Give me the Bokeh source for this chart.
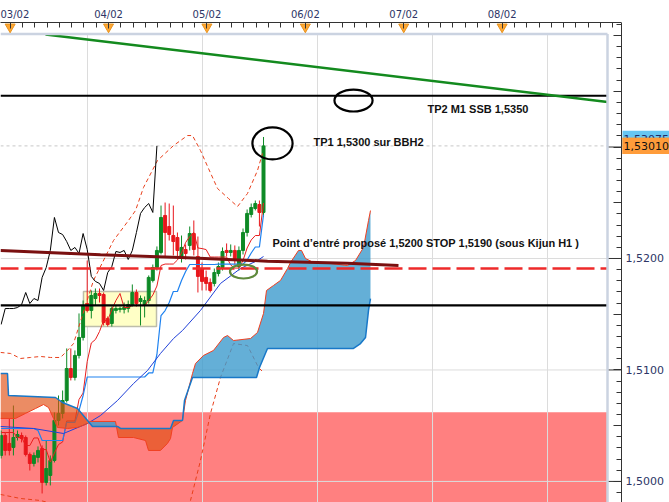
import numpy as np
from bokeh.plotting import figure
from bokeh.models import FixedTicker, Range1d
from bokeh.core.properties import value
from bokeh.embed import file_html
from bokeh.resources import INLINE

# ---------------- hourly candles (index 0 .. 64) ----------------
open_ = [1.50233, 1.50412, 1.50341, 1.50305, 1.50394, 1.50412, 1.50394, 1.50242, 1.50161, 1.50215,
         1.50296, 1.49991, 1.50054, 1.50188, 1.50547, 1.50610, 1.50726, 1.51013, 1.50933, 1.51130,
         1.51291, 1.51596, 1.51534, 1.51641, 1.51686, 1.51677, 1.51462, 1.51417, 1.51534, 1.51543,
         1.51543, 1.51551, 1.51587, 1.51695, 1.51614, 1.51587, 1.51623, 1.51803, 1.51919, 1.52054,
         1.52386, 1.52287, 1.52206, 1.52188, 1.52009, 1.52081, 1.52117, 1.52224, 1.52018, 1.51910,
         1.51830, 1.51785, 1.51776, 1.51865, 1.51919, 1.52072, 1.52054, 1.52072, 1.51928, 1.52072,
         1.52233, 1.52395, 1.52449, 1.52484, 1.52413]
high = [1.50457, 1.50439, 1.50565, 1.50681, 1.50457, 1.50439, 1.50412, 1.50260, 1.50260, 1.50314,
        1.50323, 1.50367, 1.50233, 1.50619, 1.50771, 1.50816, 1.51193, 1.51193, 1.51175, 1.51507,
        1.51623, 1.51982, 1.51713, 1.51731, 1.51731, 1.51695, 1.51480, 1.51569, 1.51578, 1.51569,
        1.51605, 1.51623, 1.51767, 1.51722, 1.51668, 1.51659, 1.51848, 1.51946, 1.52108, 1.52475,
        1.52502, 1.52493, 1.52475, 1.52233, 1.52206, 1.52126, 1.52287, 1.52341, 1.52197, 1.51964,
        1.51892, 1.51821, 1.51910, 1.51964, 1.52099, 1.52135, 1.52126, 1.52117, 1.52108, 1.52269,
        1.52440, 1.52493, 1.52520, 1.52520, 1.53090]
low = [1.50206, 1.50233, 1.50233, 1.50233, 1.50367, 1.50350, 1.50224, 1.50098, 1.50134, 1.50170,
       1.49892, 1.49964, 1.49964, 1.50170, 1.50502, 1.50565, 1.50708, 1.50906, 1.50906, 1.51103,
       1.51264, 1.51516, 1.51462, 1.51578, 1.51605, 1.51399, 1.51390, 1.51390, 1.51507, 1.51516,
       1.51507, 1.51516, 1.51569, 1.51569, 1.51399, 1.51471, 1.51596, 1.51785, 1.51892, 1.52036,
       1.52009, 1.52161, 1.52027, 1.52000, 1.51964, 1.51991, 1.52072, 1.52027, 1.51695, 1.51713,
       1.51713, 1.51695, 1.51749, 1.51839, 1.51892, 1.52018, 1.52018, 1.51946, 1.51892, 1.52036,
       1.52197, 1.52368, 1.52431, 1.52287, 1.52377]
close = [1.50412, 1.50278, 1.50278, 1.50394, 1.50421, 1.50385, 1.50242, 1.50161, 1.50233, 1.50278,
         1.49991, 1.50116, 1.50188, 1.50547, 1.50610, 1.50726, 1.51013, 1.50933, 1.51130, 1.51291,
         1.51578, 1.51534, 1.51668, 1.51686, 1.51668, 1.51426, 1.51408, 1.51551, 1.51551, 1.51551,
         1.51560, 1.51587, 1.51695, 1.51596, 1.51641, 1.51623, 1.51830, 1.51919, 1.52072, 1.52368,
         1.52233, 1.52215, 1.52152, 1.52072, 1.52099, 1.52045, 1.52224, 1.52081, 1.51839, 1.51794,
         1.51776, 1.51713, 1.51874, 1.51928, 1.52063, 1.52054, 1.52072, 1.51991, 1.52072, 1.52233,
         1.52404, 1.52457, 1.52493, 1.52413, 1.53010]

# ---------------- Ichimoku lines (per candle) ----------------
tenkan = [1.50439, 1.50439, 1.50439, 1.50439, 1.50394, 1.50394, 1.50322, 1.50322,
          1.50390, 1.50390, 1.50286, 1.50286, 1.50174, 1.50255, 1.50331, 1.50354,
          1.50542, 1.50542, 1.50542, 1.50735, 1.50793, 1.51076, 1.51242, 1.51273,
          1.51345, 1.51444, 1.51444, 1.51542, 1.51623, 1.51686, 1.51560, 1.51560,
          1.51578, 1.51578, 1.51578, 1.51578, 1.51623, 1.51672, 1.51753, 1.51937,
          1.51950, 1.51950, 1.51950, 1.51986, 1.52049, 1.52143, 1.52197, 1.52233,
          1.52094, 1.52089, 1.52080, 1.52013, 1.52013, 1.52013, 1.52013, 1.52013,
          1.51941, 1.51914, 1.51914, 1.51982, 1.52094, 1.52166, 1.52206, 1.52206,
          1.52498]
kijun = [1.50475, 1.50475, 1.50475, 1.50475, 1.50475, 1.50475, 1.50475, 1.50475, 1.50475,
         1.50457,
         1.50367, 1.50367, 1.50367, 1.50367, 1.50367, 1.50367,
         1.50529, 1.50529, 1.50529, 1.50636, 1.50771,
         1.50937, 1.50937, 1.50937, 1.50937, 1.50937, 1.50937, 1.50937, 1.50937,
         1.50937, 1.50937, 1.50937, 1.50937, 1.50937, 1.50937, 1.50937,
         1.50973, 1.50973, 1.51139, 1.51488, 1.51533, 1.51605, 1.51704, 1.51704,
         1.51802, 1.51883,
         1.51946, 1.51946, 1.51946, 1.51946, 1.51946, 1.51946, 1.51946,
         1.51950, 1.51950, 1.51950, 1.51950, 1.51950, 1.51950, 1.51950,
         1.51986, 1.52049, 1.52103, 1.52103, 1.52394]

# Senkou spans (cloud, projected 26 hours ahead)
sa_x = [-0.15, 3.51, 5.95, 8.39, 10.34, 11.56, 12.78, 13.75, 16.19, 18.63, 20.58, 21.80, 27.90,
        28.63, 32.29, 35.22, 35.95, 38.87, 40.58, 41.32, 41.80, 44.24, 44.97, 46.68, 47.41, 49.36,
        51.80, 54.24, 55.22, 56.68, 60.83, 62.53, 64.00, 64.73, 66.44, 68.14, 69.85, 70.58, 72.53,
        73.27, 74.24, 76.19, 80.34, 84.48, 86.44, 88.39, 89.61, 90.09]
sa_y = [1.50565, 1.50565, 1.50610, 1.50654, 1.50690, 1.50663, 1.50565, 1.50484, 1.50475, 1.50484,
        1.50511, 1.50538, 1.50538, 1.50394, 1.50394, 1.50367, 1.50278, 1.50278, 1.50341, 1.50385,
        1.50484, 1.50547, 1.50726, 1.50968, 1.51058, 1.51130, 1.51175, 1.51291, 1.51309, 1.51264,
        1.51282, 1.51336, 1.51507, 1.51713, 1.51758, 1.51803, 1.51910, 1.51964, 1.52072, 1.52072,
        1.52000, 1.51964, 1.51955, 1.51937, 1.51982, 1.52099, 1.52341, 1.52430]
sb_x = [-0.15, 1.56, 1.80, 13.26, 14.97, 18.63, 21.07, 22.29, 28.39, 29.12, 41.32, 42.05, 44.24,
        44.73, 46.68, 62.29, 63.02, 64.97, 85.95, 87.66, 88.88, 89.61, 90.09]
sb_y = [1.50968, 1.50968, 1.50771, 1.50753, 1.50708, 1.50654, 1.50547, 1.50493, 1.50493, 1.50475,
        1.50475, 1.50547, 1.50547, 1.50726, 1.50933, 1.50933, 1.51022, 1.51193, 1.51193, 1.51237,
        1.51291, 1.51534, 1.51641]

# Bollinger bands
bbu_x = [-0.15, 2.29, 4.73, 7.17, 9.61, 12.05, 14.48, 16.19, 17.66, 22.53, 27.41, 31.07, 32.78,
         34.73, 38.14, 42.05, 45.46, 46.68, 48.63, 50.58, 52.78, 55.46, 57.66, 60.09, 62.53, 63.75]
bbu_y = [1.51157, 1.51148, 1.51103, 1.51112, 1.51121, 1.51112, 1.51112, 1.51175, 1.51237, 1.51803,
         1.52161, 1.52341, 1.52430, 1.52637, 1.52879, 1.53013, 1.53103, 1.53103, 1.52968, 1.52807,
         1.52628, 1.52538, 1.52466, 1.52583, 1.52789, 1.52942]
bbm_x = [-0.15, 7.90, 15.22, 21.07, 24.24, 28.39, 32.29, 35.70, 38.87, 42.05, 44.24, 48.63, 53.51,
         58.39, 62.53, 64.00]
bbm_y = [1.50493, 1.50475, 1.50430, 1.50520, 1.50591, 1.50726, 1.50878, 1.50995, 1.51148, 1.51282,
         1.51354, 1.51534, 1.51776, 1.51910, 1.51982, 1.52018]
bbl_x = [-0.15, 4.73, 9.61, 13.26, 24.24, 36.44, 43.75, 46.19, 48.63, 51.07, 53.51, 56.68, 60.09,
         62.78, 64.00]
bbl_y = [1.49883, 1.49847, 1.49829, 1.49793, 1.49721, 1.49694, 1.49739, 1.49829, 1.50188, 1.50610,
         1.50933, 1.51237, 1.51219, 1.51022, 1.50977]

# Kijun H1 (maroon), trend line (green)
kh1_x = [-0.15, 24.24, 45.46, 64.97, 84.48, 96.92]
kh1_y = [1.52072, 1.52033, 1.52006, 1.51976, 1.51958, 1.51937]
trend_x = [10.83, 147.90]
trend_y = [1.54009, 1.53404]

# levels / zones
TP2_LEVEL = 1.5346
SUPPORT_LEVEL = 1.5158
STOP_LEVEL = 1.5191
ZONE_TOP = 1.5062
LAST_PRICE = 1.53010
ASK_PRICE = 1.53075
box_left, box_right, box_bottom, box_top = 20.09, 37.90, 1.51390, 1.51704

# annotations
note_x = [103.99, 76.19, 66.19]
note_y = [1.53337, 1.53049, 1.52135]
note_text = ["TP2 M1 SSB 1,5350", "TP1  1,5300 sur BBH2",
             "Point d\u2019entré proposé 1,5200 STOP 1,5190 (sous Kijun H1 )"]
ell_x = [85.95, 66.19, 59.12]
ell_y = [1.53417, 1.53032, 1.51883]
ell_w = [9.3, 9.8, 6.6]
ell_h = [0.00197, 0.00287, 0.00125]
ell_col = ["black", "black", "#5f8a3c"]

# price tags at the right
tag_price = [ASK_PRICE, LAST_PRICE]
tag_text = ["1,53075", "1,53010"]
tag_fill = ["#66C6F2", "#FF9C3A"]
tag_color = ["#1f2a66", "#111111"]
TAG_HALF = 0.00072

# axes
DAY_TICKS = [2.2, 26.2, 50.2, 74.2, 98.2, 122.2]
DAY_LABELS = ["03/02", "04/02", "05/02", "06/02", "07/02", "08/02"]
GRID_X = [21.07, 49.12, 77.17, 105.22, 133.27]
GRID_Y = [1.50, 1.51, 1.52]
X0, X1 = -0.15, 163.02
Y0, Y1 = 1.49811, 1.54117
X_AXIS = 151.31
PLOT_RIGHT = 147.90
PLOT_TOP = 1.54014

p = figure(width=669, height=502, x_range=Range1d(X0, X1), y_range=Range1d(Y0, Y1),
           x_axis_location="above", y_axis_location="right",
           output_backend="svg", toolbar_location=None,
           min_border_left=0, min_border_right=0, min_border_top=22, min_border_bottom=0)
p.outline_line_color = None
p.background_fill_color = "white"
p.border_fill_color = "white"
p.xgrid.visible = False
p.ygrid.visible = False

# top axis
minor_x = []
for d in DAY_TICKS + [146.2]:
    for k in range(1, 8):
        if d + 3 * k < X_AXIS:
            minor_x.append(d + 3 * k)
xa = p.xaxis[0]
xa.ticker = FixedTicker(ticks=DAY_TICKS, minor_ticks=minor_x + [146.2])
xa.major_label_overrides = {t: l for t, l in zip(DAY_TICKS, DAY_LABELS)}
xa.bounds = (X0, X_AXIS)
xa.major_tick_in = 6
xa.major_tick_out = 0
xa.minor_tick_in = 5
xa.minor_tick_out = 0
xa.major_label_standoff = 3
xa.major_label_text_font = "DejaVu Sans"
xa.major_label_text_font_size = "10px"
xa.major_label_text_color = "#2d3566"
xa.axis_line_color = "#333333"
xa.major_tick_line_color = "#333333"
xa.minor_tick_line_color = "#333333"

# right axis (drawn at the chart's price scale position)
major_y = [round(1.500 + 0.005 * k, 3) for k in range(9)]
minor_y = [round(1.498 + 0.001 * k, 3) for k in range(44)]
ya = p.yaxis[0]
ya.fixed_location = X_AXIS
ya.ticker = FixedTicker(ticks=major_y, minor_ticks=minor_y)
labels_y = {}
for v in major_y:
    if round(v * 1000) % 10 == 0 and v < 1.525:
        labels_y[v] = "1," + "%04d" % round((v - 1) * 10000)
    else:
        labels_y[v] = ""
ya.major_label_overrides = labels_y
ya.major_tick_in = 8
ya.major_tick_out = 0
ya.minor_tick_in = 5
ya.minor_tick_out = 0
ya.major_label_standoff = 4
ya.major_label_text_font = "DejaVu Sans"
ya.major_label_text_font_size = "11px"
ya.major_label_text_color = "#2d3566"
ya.axis_line_color = "#333333"
ya.major_tick_line_color = "#333333"
ya.minor_tick_line_color = "#333333"

# red zone
p.quad(left=[X0], right=[PLOT_RIGHT], bottom=[Y0], top=[ZONE_TOP],
       fill_color="#FF8080", line_color=None)

# grid
p.segment(x0=GRID_X, x1=GRID_X, y0=[Y0] * len(GRID_X), y1=[PLOT_TOP] * len(GRID_X),
          line_color="#DCDCDC", line_width=1)
p.segment(x0=[X0] * len(GRID_Y), x1=[PLOT_RIGHT] * len(GRID_Y), y0=GRID_Y, y1=GRID_Y,
          line_color="#DCDCDC", line_width=1)
p.segment(x0=[X0], x1=[PLOT_RIGHT], y0=[LAST_PRICE], y1=[LAST_PRICE],
          line_color="#C8C8C8", line_width=1, line_dash="3 3")
long_ticks = [1.50, 1.51, 1.52, 1.53]
p.segment(x0=[PLOT_RIGHT] * 4, x1=[X_AXIS] * 4, y0=long_ticks, y1=long_ticks,
          line_color="#333333", line_width=1)

# yellow box
p.quad(left=[box_left], right=[box_right], bottom=[box_bottom], top=[box_top],
       fill_color="#FFFFC6", line_color="#BDBDAA", line_width=1.5)

# candles
idx = np.arange(len(close))
o = np.array(open_); c = np.array(close)
cols = ["#0E8A26" if cc >= oo else "#E8161B" for oo, cc in zip(open_, close)]
p.segment(x0=idx, x1=idx, y0=low, y1=high, line_color=cols, line_width=1)
p.vbar(x=idx, width=0.72, top=np.maximum(o, c), bottom=np.minimum(o, c),
       fill_color=cols, line_color=cols, line_width=1)

# indicator lines
p.line(idx, tenkan, line_color="#E81E1E", line_width=1)
p.line(idx, kijun, line_color="#1E82F0", line_width=1.2)
p.line(bbu_x, bbu_y, line_color="#E8401C", line_width=1, line_dash="4 3")
p.line(bbl_x, bbl_y, line_color="#E8401C", line_width=1, line_dash="4 3")
p.line(bbm_x, bbm_y, line_color="#2040D8", line_width=1)
p.line(idx[:-26], close[26:], line_color="black", line_width=1)

# cloud
grid = np.linspace(sa_x[0], sa_x[-1], 1800)
A = np.interp(grid, sa_x, sa_y)
B = np.interp(grid, sb_x, sb_y)
top = np.maximum(A, B)
p.varea(x=grid, y1=B, y2=top, fill_color="#3D9BCD", fill_alpha=0.8)
p.varea(x=grid, y1=A, y2=top, fill_color="#E14E11", fill_alpha=0.65)
p.line(sa_x, sa_y, line_color="#F04020", line_width=1)
p.line(sb_x, sb_y, line_color="#1878C8", line_width=1.5)

# levels
p.segment(x0=[X0, X0], x1=[PLOT_RIGHT, PLOT_RIGHT], y0=[TP2_LEVEL, SUPPORT_LEVEL],
          y1=[TP2_LEVEL, SUPPORT_LEVEL], line_color="black", line_width=2.2)
p.line(kh1_x, kh1_y, line_color="#7A1010", line_width=3)
p.segment(x0=[X0], x1=[PLOT_RIGHT], y0=[STOP_LEVEL], y1=[STOP_LEVEL],
          line_color="#EE2A2A", line_width=2.5, line_dash="18 6")
p.line(trend_x, trend_y, line_color="#138A1E", line_width=2.5)

# ellipses
p.ellipse(x=ell_x, y=ell_y, width=ell_w, height=ell_h, fill_color=None,
          line_color=ell_col, line_width=2.2)

# notes
p.text(x=note_x, y=note_y, text=note_text, text_font=value("Liberation Sans"),
       text_font_style="bold", text_font_size="11px", text_baseline="middle",
       text_align="left", text_color="#111111")

# frame border
p.segment(x0=[X0, PLOT_RIGHT], x1=[PLOT_RIGHT, PLOT_RIGHT], y0=[PLOT_TOP, Y0],
          y1=[PLOT_TOP, PLOT_TOP], line_color="#CBD3E1", line_width=2.5)

# day markers
p.scatter(x=DAY_TICKS, y=[Y1 - 0.0004] * len(DAY_TICKS), marker="inverted_triangle",
          size=10, fill_color="#FFA733", line_color="#E8931E")

# price tags
tag_left = X_AXIS + 0.25
p.quad(left=[tag_left] * 2, right=[X1] * 2,
       bottom=[v - TAG_HALF for v in tag_price], top=[v + TAG_HALF for v in tag_price],
       fill_color=tag_fill, line_color=None)
p.text(x=[tag_left + 0.25] * 2, y=tag_price, text=tag_text, text_font=value("DejaVu Sans"),
       text_font_size="11px", text_baseline="middle", text_align="left", text_color=tag_color)
# orange tag drawn over the blue one
p.quad(left=[tag_left], right=[X1], bottom=[LAST_PRICE - TAG_HALF], top=[LAST_PRICE + TAG_HALF],
       fill_color="#FF9C3A", line_color=None)
p.text(x=[tag_left + 0.25], y=[LAST_PRICE], text=["1,53010"], text_font=value("DejaVu Sans"),
       text_font_size="11px", text_baseline="middle", text_align="left", text_color="#111111")

open("out.html", "w").write(file_html(p, INLINE))
